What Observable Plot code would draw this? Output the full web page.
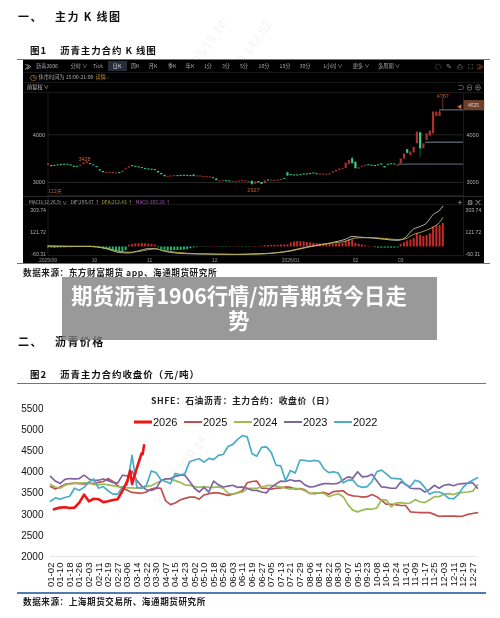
<!DOCTYPE html>
<html><head><meta charset="utf-8">
<script src="https://cdn.jsdelivr.net/npm/d3@7"></script>
<script src="https://cdn.jsdelivr.net/npm/@observablehq/plot@0.6"></script>
<style>
html,body{margin:0;padding:0;background:#fff;}
#page{position:relative;width:500px;height:618px;overflow:hidden;background:#fff;font-family:"Noto Sans CJK SC",sans-serif;}
#soft{position:absolute;left:0;top:0;width:500px;height:618px;filter:blur(.55px);}
.t{position:absolute;white-space:nowrap;line-height:1;transform:translateY(-50%);}
.h1{font-size:11px;font-weight:700;color:#111;letter-spacing:1.4px;}
.h2{font-size:9.5px;font-weight:700;color:#111;letter-spacing:.9px;}
.src{font-size:8.6px;font-weight:700;color:#222;letter-spacing:.55px;}
.rule{position:absolute;height:1.5px;background:#4f7bae;}
.wm{position:absolute;color:#f4f4f4;font:13px "Liberation Sans",sans-serif;transform:rotate(-55deg);transform-origin:left top;white-space:nowrap;}
#panel{position:absolute;left:23px;top:60px;width:461px;height:203px;background:#000;}
.tb{position:absolute;white-space:nowrap;line-height:1;transform:translate(-50%,-50%);font-size:5.2px;color:#a8a8a8;font-family:"Noto Sans CJK SC",sans-serif;}
.sep{position:absolute;background:#171717;}
.plot{position:absolute;}
.plot svg{display:block;}
.lg{position:absolute;top:422px;height:2px;transform:translateY(-50%);}
.lgt{position:absolute;top:422px;transform:translateY(-50%);font:11px "Liberation Sans",sans-serif;color:#111;line-height:1;}
#overlay{position:absolute;left:62px;top:277px;width:375px;height:63px;background:rgba(128,128,128,.8);}
#overlay div{position:absolute;left:0;width:354px;text-align:center;color:#fff;font-weight:700;font-size:21.3px;line-height:24px;height:24px;filter:blur(.3px);font-family:"Noto Sans CJK SC",sans-serif;}
</style></head>
<body><div id="page"><div id="soft">
<div class="wm" style="left:170px;top:85px">2026/03/19 14:</div>
<div class="wm" style="left:215px;top:85px">10.219.142.52</div>
<div class="wm" style="left:150px;top:500px">2026/03/19 14:</div>

<div class="t h1" style="left:18px;top:16px">一、</div>
<div class="t h1" style="left:55px;top:16px">主力 K 线图</div>
<div class="t h2" style="left:30px;top:51px">图1</div>
<div class="t h2" style="left:60px;top:51px">沥青主力合约 K 线图</div>
<div class="rule" style="left:17px;top:58.5px;width:473px"></div>

<div id="panel"></div>
<div class="rule" style="left:17px;top:262.5px;width:473px"></div>
<div class="t src" style="left:23px;top:272px">数据来源：东方财富期货 app、海通期货研究所</div>
<div class="t h1" style="left:18px;top:341px">二、</div>
<div class="t h1" style="left:55px;top:341px">沥青价格</div>
<div class="t h2" style="left:30px;top:375px">图2</div>
<div class="t h2" style="left:60px;top:375px">沥青主力合约收盘价（元/吨）</div>
<div class="rule" style="left:17px;top:382.5px;width:469px"></div>
<div class="t h2" style="left:151px;top:400.5px;font-size:8.8px;letter-spacing:.55px;color:#222">SHFE：石油沥青：主力合约：收盘价（日）</div>

<div class="lg" style="left:134px;width:18px;height:3px;background:#f01414"></div><div class="lgt" style="left:153px">2026</div>
<div class="lg" style="left:184px;width:18px;background:#c0504d"></div><div class="lgt" style="left:203px">2025</div>
<div class="lg" style="left:234px;width:18px;background:#9bbb59"></div><div class="lgt" style="left:253px">2024</div>
<div class="lg" style="left:284px;width:18px;background:#8064a2"></div><div class="lgt" style="left:303px">2023</div>
<div class="lg" style="left:334px;width:18px;background:#4bacc6"></div><div class="lgt" style="left:353px">2022</div>

<div id="candle" class="plot" style="left:23px;top:60px"></div>
<div id="macd" class="plot" style="left:23px;top:196px"></div>
<div id="lines" class="plot" style="left:0;top:390px"></div>
<div class="rule" style="left:17px;top:592px;width:469px"></div>
<div class="t src" style="left:23px;top:601px">数据来源：上海期货交易所、海通期货研究所</div>
<div id="chrome"></div>
</div>
<div id="overlay"><div style="top:6px">期货沥青1906行情/沥青期货今日走</div><div style="top:31px">势</div></div>
</div>
<script>
// ---------- Figure 1: daily candles (index 0..121) ----------
const opens = [3360,3355,3360,3368,3378,3385,3382,3368,3340,3340,3338,3375,3398,3397,3368,3334,3266,3230,3185,3192,3185,3178,3207,3212,3260,3302,3354,3340,3326,3312,3296,3284,3278,3270,3230,3190,3150,3108,3115,3122,3144,3151,3151,3151,3144,3158,3115,3115,3101,3101,3094,3102,3075,3010,3017,3039,3032,3003,3003,3010,3017,3010,2995,3025,2965,3020,3000,2975,3052,3030,3024,3030,3040,3088,3200,3165,3158,3158,3165,3179,3179,3186,3200,3186,3157,3157,3150,3157,3195,3222,3250,3270,3290,3378,3497,3427,3280,3320,3340,3372,3364,3357,3371,3390,3335,3382,3392,3390,3340,3391,3490,3690,3560,3620,3811,4042,3706,3881,3972,4021,4385,4385];
const closes = [3390,3330,3338,3346,3356,3363,3360,3346,3318,3318,3362,3408,3428,3373,3346,3310,3238,3204,3207,3214,3207,3200,3185,3236,3286,3328,3332,3318,3304,3290,3274,3262,3256,3248,3200,3160,3120,3130,3137,3144,3122,3129,3129,3129,3122,3122,3137,3137,3123,3123,3116,3080,3037,3032,3039,3017,3010,3025,3025,3032,3039,3032,3017,2960,3010,2990,2960,3035,3030,3052,3046,3052,3062,3066,3135,3143,3136,3136,3143,3157,3157,3164,3178,3164,3179,3179,3172,3179,3225,3255,3282,3290,3406,3462,3392,3287,3308,3343,3364,3350,3342,3335,3349,3365,3305,3360,3370,3368,3368,3496,3600,3610,3640,3740,4056,3706,3810,4021,4077,4476,4476,4476];
const wickIndex = [63, 74, 94, 115, 121];
const wickHigh  = [3028, 3220, 3540, 4060, 4511];
const wickLow   = [2927, 3135, 3392, 3530, 4385];
const levelPrice = [4524, 3845, 3384];
const levelStart = [121, 116.7, 108.3];
const priceTicks = [3000, 4000];
const peakIndex = [11.3, 63.5, 122];
const peakValue = [3428, 2927, 4767];

// ---------- Figure 1: MACD (index 0..122) ----------
const macdHist = [-8,-10,-12,-10,-8,-8,-6,-6,-5,-4,-3,-2,6,10,8,-2,-10,-16,-22,-28,-34,-38,-42,-42,-30,14,20,24,26,28,26,24,22,16,-6,-22,-28,-32,-32,-30,-30,-28,-26,-22,-14,-8,-6,3,-3,-3,3,3,3,-3,-3,-3,-3,3,3,3,-3,-3,-3,3,3,3,6,10,12,14,14,14,16,16,18,34,42,44,44,42,38,34,30,28,26,24,22,20,22,24,28,30,50,60,60,30,22,16,10,6,2,-6,-10,-10,-10,-10,-10,-10,-8,20,35,50,58,70,115,97,88,97,110,166,180,178,195];
const macdLineIndex = [0,6,12,15,18,22,25,28,31,33,36,40,46,52,58,65,70,75,80,85,90,92,94,96,100,104,108,110,113,115,117,119,121,122];
const difValues = [8,6,5,0,-14,-46,-50,-32,-14,-14,-36,-52,-58,-60,-62,-56,-50,-30,0,22,50,65,88,83,75,64,55,70,150,170,200,270,305,340];
const deaValues = [8,5,5,2,-10,-36,-44,-38,-22,-16,-30,-46,-56,-60,-62,-60,-50,-34,-4,22,40,48,69,76,78,70,62,65,105,120,140,165,205,245];
const macdTicks = [-60.31, 121.72, 303.74];
const macdDatePos = [0, 14.4, 31.4, 51.5, 75, 95, 109];
const macdDateLabels = ["2025/09","10","11","12","2026/01","02","03"];

// ---------- Figure 2: closing price, half-label sampling ----------
const dateLabels = ["01-02","01-10","01-18","01-26","02-03","02-11","02-19","02-27","03-06","03-14","03-22","03-30","04-07","04-15","04-23","05-02","05-10","05-18","05-26","06-03","06-11","06-19","06-27","07-05","07-13","07-21","07-29","08-06","08-14","08-22","08-30","09-07","09-15","09-23","10-08","10-16","10-24","11-01","11-09","11-17","11-25","12-03","12-11","12-19","12-27"];
const yTicks = [2000,2500,3000,3500,4000,4500,5000,5500];
const y2022 = [3310,3390,3360,3400,3430,3620,3570,3640,3770,3840,3620,3660,3560,3480,3480,3650,3700,4400,3640,3620,3690,4030,3990,3820,3780,3730,3970,3940,3960,4250,4290,4320,4240,4330,4300,4400,4420,4610,4660,4780,4870,4840,4440,4380,4590,4600,4470,4170,4150,3800,4040,3980,4290,4280,4260,4280,4260,4080,3990,4010,3980,3750,3810,3820,3680,3640,3660,3780,4010,4050,3960,3860,3850,3840,3700,3660,3810,3770,3640,3480,3530,3530,3480,3380,3370,3470,3640,3750,3810,3870];
const y2023 = [3900,3790,3730,3830,3850,3840,3850,3930,3840,3800,3810,3840,3800,3760,3740,3930,3910,4020,3800,3670,3580,3570,3610,3800,3840,3850,3900,3930,3930,3780,3620,3530,3640,3530,3790,3700,3650,3670,3690,3640,3650,3620,3570,3570,3530,3510,3640,3720,3790,3780,3820,3790,3800,3700,3650,3660,3700,3730,3730,3720,3740,3820,3890,3860,4010,3890,3900,3950,3800,3650,3640,3620,3620,3770,3720,3620,3610,3610,3530,3590,3690,3620,3690,3710,3680,3720,3730,3740,3750,3620];
const y2024 = [3710,3650,3620,3690,3720,3740,3740,3750,3750,3710,3700,3720,3700,3680,3660,3650,3630,3630,3620,3630,3660,3680,3740,3790,3840,3840,3800,3760,3700,3690,3660,3640,3660,3640,3640,3650,3620,3500,3480,3510,3530,3610,3620,3620,3650,3680,3690,3670,3650,3620,3600,3620,3600,3560,3500,3510,3510,3500,3420,3460,3490,3420,3230,3100,3060,3100,3130,3120,3150,3350,3340,3180,3270,3280,3260,3270,3350,3300,3280,3340,3420,3420,3480,3490,3470,3510,3520,3530,3550,3700];
const y2025 = [3660,3600,3650,3710,3730,3740,3730,3720,3740,3730,3760,3780,3850,3780,3680,3620,3570,3520,3510,3500,3530,3600,3630,3620,3320,3230,3270,3340,3380,3410,3410,3360,3460,3490,3510,3510,3480,3450,3480,3510,3560,3750,3780,3790,3620,3620,3600,3620,3630,3650,3640,3600,3610,3580,3500,3490,3510,3520,3480,3540,3550,3560,3470,3440,3430,3410,3420,3470,3420,3330,3240,3240,3230,3210,3210,3060,3050,3040,3040,3040,3000,2950,2960,2960,2960,2950,2960,3000,3020,3040];
const pos2026 = [0.7,1,2,3,4,5,6,7,8,9,10,11,12,13,14,15,16,16.6,17,18,19,19.2,19.5];
const y2026 = [3120,3130,3160,3170,3150,3160,3280,3470,3310,3370,3360,3290,3310,3340,3360,3560,3790,4040,3720,4100,4450,4430,4640];

const sans = '"Liberation Sans",sans-serif';
const candleRows = opens.map((o,i)=>({i,o,c:closes[i],up:closes[i]>=o}));
const wicks = wickIndex.map((i,k)=>({i,h:wickHigh[k],l:wickLow[k],up:closes[i]>=opens[i]}));
const levels = levelPrice.map((p,k)=>({p,s:levelStart[k]}));
const peaks = peakValue.map((v,k)=>({i:peakIndex[k],v}));
const RED="#a8322c", GREEN="#35cf86";

document.getElementById("candle").append(Plot.plot({
  width:461,height:136,marginLeft:24.5,marginRight:21,marginTop:32,marginBottom:1,
  style:{background:"transparent",fontFamily:sans},
  x:{domain:[0,128.4],axis:null},
  y:{domain:[2727,4887],axis:null},
  marks:[
    Plot.frame({stroke:"#1a1a1a"}),
    Plot.ruleY(priceTicks,{stroke:"#242424"}),
    Plot.axisY(priceTicks,{anchor:"left",tickSize:0,tickPadding:3,tickFormat:"d",color:"#b0b0b0",fontSize:5.5,label:null}),
    Plot.axisY(priceTicks,{anchor:"right",tickSize:0,tickPadding:3,tickFormat:"d",color:"#b0b0b0",fontSize:5.5,label:null}),
    Plot.ruleY(levels,{y:"p",x1:"s",x2:128.4,stroke:"#565a68",strokeWidth:1.4}),
    Plot.ruleX(wicks,{x:"i",y1:"l",y2:"h",stroke:d=>d.up?RED:"#1f8a58",strokeWidth:.7}),
    Plot.ruleX(candleRows,{x:"i",y1:"o",y2:"c",stroke:d=>d.up?RED:GREEN,strokeWidth:2.2}),
    Plot.ruleX([peaks[2]],{x:"i",y1:"v",y2:levelPrice[0],stroke:"#a8452c",strokeWidth:.7}),
    Plot.text([peaks[0]],{x:"i",y:"v",text:d=>String(d.v),fill:"#c4602f",fontSize:5.5,dy:-3}),
    Plot.text([peaks[1]],{x:"i",y:"v",text:d=>String(d.v),fill:"#c4602f",fontSize:5.5,dy:4}),
    Plot.text([peaks[2]],{x:"i",y:"v",text:d=>String(d.v),fill:"#c4602f",fontSize:5.5,dy:-2})
  ]
}));

const histRows = macdHist.map((v,i)=>({i,v}));
const lineRows = macdLineIndex.map((i,k)=>({i,dif:difValues[k],dea:deaValues[k]}));
document.getElementById("macd").append(Plot.plot({
  width:461,height:66.5,marginLeft:24.5,marginRight:21,marginTop:0,marginBottom:7.5,
  style:{background:"transparent",fontFamily:sans},
  x:{domain:[0,128.4],axis:null},
  y:{domain:[-71.1,420.4],axis:null},
  marks:[
    Plot.frame({stroke:"#1a1a1a"}),
    Plot.axisY(macdTicks,{anchor:"left",tickSize:0,tickPadding:2,tickFormat:d=>d.toFixed(2),color:"#b0b0b0",fontSize:5.2,label:null}),
    Plot.axisY(macdTicks,{anchor:"right",tickSize:0,tickPadding:2,tickFormat:d=>d.toFixed(2),color:"#b0b0b0",fontSize:5.2,label:null}),
    Plot.ruleX(histRows,{x:"i",y1:0,y2:"v",stroke:d=>d.v>=0?"#c72a2a":"#24b56e",strokeWidth:2}),
    Plot.line(lineRows,{x:"i",y:"dif",stroke:"#c8c8c8",strokeWidth:.9,curve:"monotone-x"}),
    Plot.line(lineRows,{x:"i",y:"dea",stroke:"#b9b03c",strokeWidth:.9,curve:"monotone-x"}),
    Plot.axisX(macdDatePos,{anchor:"bottom",tickSize:0,tickPadding:2.5,tickFormat:(d,k)=>macdDateLabels[k],color:"#9a9a9a",fontSize:5,label:null})
  ]
}));

const series = [["#c0504d",y2025],["#9bbb59",y2024],["#8064a2",y2023],["#4bacc6",y2022]];
const labelPos = dateLabels.map((d,k)=>k*2);
document.getElementById("lines").append(Plot.plot({
  width:500,height:200,marginLeft:50,marginRight:23,marginTop:18.5,marginBottom:34,
  style:{background:"transparent",fontFamily:sans},
  x:{domain:[0,89],axis:null},
  y:{domain:[2000,5500],axis:null},
  marks:[
    Plot.ruleY([2000],{stroke:"#e6e6e6",strokeWidth:1.2}),
    Plot.axisY(yTicks,{tickSize:0,tickPadding:7,tickFormat:"d",fontSize:10,color:"#111",label:null}),
    Plot.axisX(labelPos,{tickSize:0,tickPadding:6,tickRotate:-90,tickFormat:(d,k)=>dateLabels[k],fontSize:9.6,color:"#111",label:null}),
    ...series.map(([c,v])=>Plot.line(v,{x:(d,k)=>k,y:d=>d,stroke:c,strokeWidth:1.7})),
    Plot.line(y2026,{x:(d,k)=>pos2026[k],y:d=>d,stroke:"#f01414",strokeWidth:2.6})
  ]
}));

// ---------- Dark panel chrome: real text over the panel ----------
const chrome = document.getElementById("chrome");
function tb(text,x,y,css){const e=document.createElement("div");e.className="tb";e.textContent=text;e.style.left=x+"px";e.style.top=y+"px";if(css)e.style.cssText+=css;chrome.append(e);}
function sep(x,y,w,h,c){const e=document.createElement("div");e.className="sep";e.style.cssText=`left:${x}px;top:${y}px;width:${w}px;height:${h}px;`+(c?`background:${c};`:"");chrome.append(e);}
sep(23,71.5,461,.7);sep(23,81.5,461,.7);sep(23,92,461,.7);sep(23,196,461,.8,"#2a2a2a");sep(23,204,461,.7);
sep(108,61,19,10,"#262c3a");
tb("≫",28,66,"color:#ddd;font-size:7px");
tb("沥青2606",47,66);tb("分时 ∨",79,66);tb("Tick",98,66);tb("日K",117,66,"color:#ddd");tb("周K",135,66);tb("月K",153,66);tb("季K",172,66);tb("年K",190,66);
tb("1分",208,66);tb("3分",226,66);tb("5分",244,66);tb("10分",264,66);tb("15分",285,66);tb("30分",305,66);tb("1小时 ∨",333,66);tb("更多 ∨",361,66);tb("多周期 ∨",389,66);
tb("☁",438,66,"font-size:7px;color:#8a8a8a");tb("✎",449,66,"font-size:7px;color:#8a8a8a");tb("⎙",460,66,"font-size:7px;color:#8a8a8a");tb("⛶",470,66,"font-size:7px;color:#8a8a8a");tb("≫",480,66,"font-size:7px;color:#c4602f");
tb("◷",33,76.5,"font-size:8px;color:#c89a20");tb("休市时间为 15:00-21:00",66,76.5);tb("详情 ›",102,76.5,"color:#c89a20");
tb("前复权 ∨",38,87.3,"color:#c0c0c0");
tb("⊃",461,87.3,"font-size:7px;color:#9a9a9a");tb("⊖",469.5,87.3,"font-size:7px;color:#9a9a9a");tb("⊕",478,87.3,"font-size:7px;color:#9a9a9a");
tb("122天",55,190,"color:#c4602f;font-size:5px");
tb("◀",459.5,105,"color:#e0702c;font-size:5px");
tb("4625",473.5,105,"color:#d8d8d8;font-size:5px;background:#6e3f2c;padding:2.4px 5px");
tb("MACD(12,26,9) ∨",48,202,"font-size:4.8px");tb("DIF:295.07 ↑",85,202,"font-size:4.8px");tb("DEA:212.43 ↑",117,202,"font-size:4.8px;color:#b9b03c");tb("MACD:165.28 ↑",153,202,"font-size:4.8px;color:#b050c0");
tb("+",460,202,"font-size:8px;color:#b0b0b0");tb("⚙",470,202,"font-size:7px;color:#b0b0b0");tb("×",478,202,"font-size:8px;color:#b0b0b0");
</script>
</body></html>
